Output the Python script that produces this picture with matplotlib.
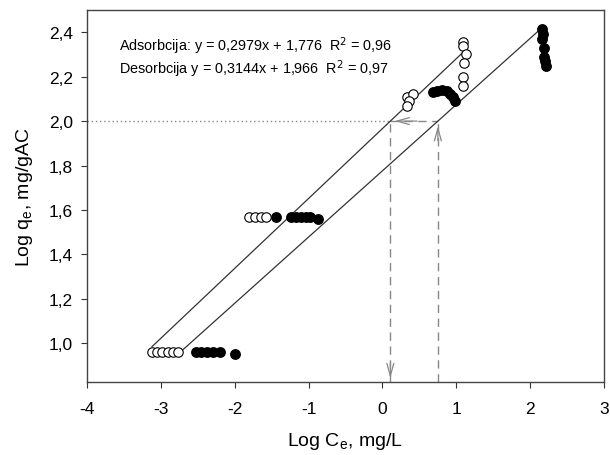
import matplotlib
matplotlib.use("Agg")
import matplotlib.pyplot as plt
import numpy as np

plt.rcParams['font.family'] = ['Liberation Sans', 'DejaVu Sans']

# Open circles
open_x = [-3.12, -3.05, -2.98, -2.90, -2.84, -2.77,
          -1.80, -1.73, -1.64, -1.57,
          0.34, 0.41, 0.36, 0.34,
          1.09, 1.09, 1.13, 1.11, 1.09, 1.09]
open_y = [0.96, 0.96, 0.96, 0.96, 0.96, 0.96,
          1.567, 1.567, 1.567, 1.567,
          2.11, 2.12, 2.09, 2.07,
          2.358, 2.34, 2.30, 2.26, 2.20, 2.16]

# Filled circles
fill_x = [-2.52, -2.45, -2.38, -2.30, -2.20, -2.00,
          -1.44, -1.24, -1.17, -1.10, -1.03, -0.98, -0.875,
          0.68, 0.74, 0.81, 0.88, 0.91, 0.95, 0.99,
          2.16, 2.18, 2.16, 2.19, 2.19, 2.20, 2.22]
fill_y = [0.96, 0.96, 0.96, 0.96, 0.96, 0.95,
          1.567, 1.567, 1.567, 1.567, 1.567, 1.567, 1.56,
          2.13, 2.136, 2.14, 2.136, 2.12, 2.11, 2.09,
          2.415, 2.39, 2.37, 2.33, 2.29, 2.27, 2.25]

# Regression lines (slope, intercept, x range)
ads_slope, ads_int = 0.2979, 1.776
des_slope, des_int = 0.3144, 1.966
ads_xrange = [-2.74, 2.13]
des_xrange = [-3.12, 1.10]

x_ticks = [-4, -3, -2, -1, 0, 1, 2, 3]
y_ticks = [1.0, 1.2, 1.4, 1.6, 1.8, 2.0, 2.2, 2.4]

fig = plt.figure(figsize=(6.10, 4.56), dpi=100)
ax = fig.add_axes([0.1426, 0.160, 0.8474, 0.816])

# fit lines
xd = np.array(des_xrange)
ax.plot(xd, des_slope * xd + des_int, color='#333333', lw=0.9, zorder=2)
xa = np.array(ads_xrange)
ax.plot(xa, ads_slope * xa + ads_int, color='#333333', lw=0.9, zorder=2)

# markers
ax.plot(fill_x, fill_y, 'o', color='black', markersize=6.8, zorder=3)
ax.plot(open_x, open_y, 'o', mfc='white', mec='black', mew=0.8, markersize=6.8, zorder=4)

ylo, yhi = 0.826, 2.50
ax.set_xlim(-4, 3)
ax.set_ylim(ylo, yhi)

# reference lines at log q = 2.0
x_des2 = (2.0 - des_int) / des_slope
x_ads2 = (2.0 - ads_int) / ads_slope
gray = '#888888'
ax.plot([-4, x_des2], [2.0, 2.0], color=gray, lw=1.0, ls=(0, (1, 2)), zorder=1)
ax.plot([x_des2, x_ads2], [2.0, 2.0], color=gray, lw=1.0, ls=(0, (6, 4)), zorder=1)
ax.plot([x_des2, x_des2], [ylo, 2.0], color=gray, lw=1.0, ls=(0, (6, 4)), zorder=1)
ax.plot([x_ads2, x_ads2], [ylo, 2.0], color=gray, lw=1.0, ls=(0, (6, 4)), zorder=1)
akw = dict(arrowstyle='->,head_length=0.9,head_width=0.25', color=gray, lw=0.9)
ax.annotate('', xy=(x_des2, ylo + 0.005), xytext=(x_des2, ylo + 0.1), arrowprops=akw)
ax.annotate('', xy=(x_des2 + 0.02, 2.0), xytext=(x_des2 + 0.4, 2.0), arrowprops=akw)
ax.annotate('', xy=(x_ads2, 1.99), xytext=(x_ads2, 1.90), arrowprops=akw)

ax.text(-3.57, 2.29,
        'Adsorbcija: y = 0,2979x + 1,776  R$^2$ = 0,96\n'
        'Desorbcija y = 0,3144x + 1,966  R$^2$ = 0,97',
        fontsize=10.4, va='center', ha='left', linespacing=1.05)

ax.set_xticks(x_ticks)
ax.set_xticklabels([str(t) for t in x_ticks])
ax.set_yticks(y_ticks)
ax.set_yticklabels([f'{t:.1f}'.replace('.', ',') for t in y_ticks])
ax.tick_params(axis='both', direction='out', length=4, labelsize=12.5, color='#333333',
               top=False, right=False)
ax.tick_params(axis='x', pad=10)
ax.tick_params(axis='y', pad=6)
for s in ax.spines.values():
    s.set_color('#444444')
    s.set_linewidth(1.0)

ax.set_xlabel('Log C$_\\mathregular{e}$, mg/L', fontsize=14, labelpad=10)
ax.set_ylabel('Log q$_\\mathregular{e}$, mg/gAC', fontsize=14, labelpad=10)

fig.savefig('out.png', dpi=100)
